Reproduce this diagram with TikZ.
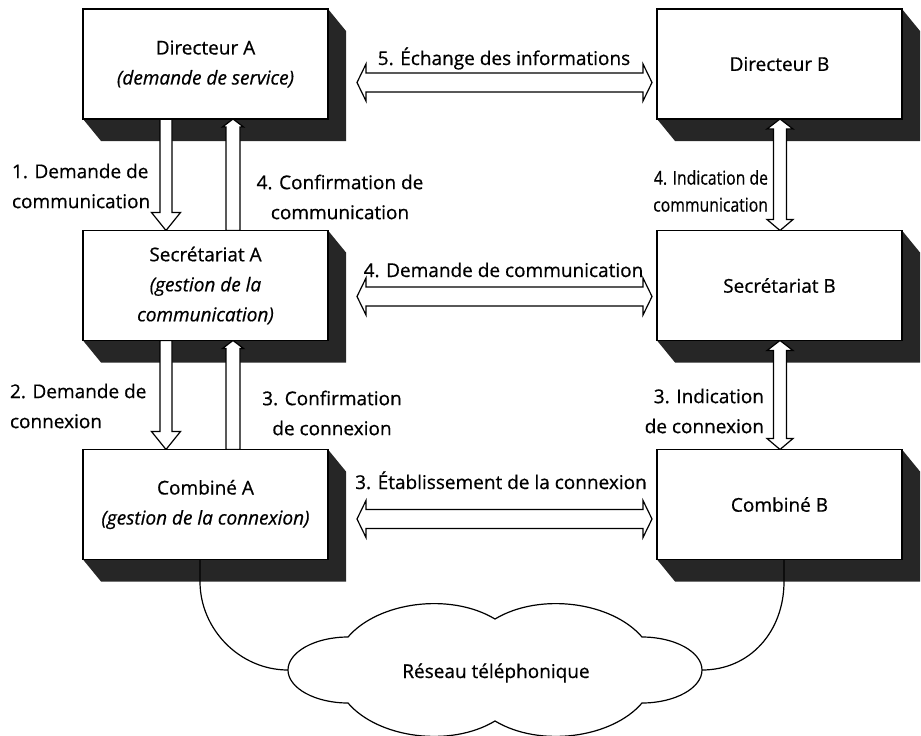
\documentclass[tikz,border=0pt]{standalone}
\usepackage{fontspec}
\setmainfont{Open Sans}[UprightFeatures={FakeBold=0.6}, ItalicFeatures={FakeBold=0.6}]
\usetikzlibrary{calc}
\pgfdeclarelayer{shadowlayer}
\pgfdeclarelayer{arrowlayer}
\pgfsetlayers{shadowlayer,arrowlayer,main}

\begin{document}
\begin{tikzpicture}[x=1pt,y=-1pt,
  every node/.style={font=\fontsize{19}{30}\selectfont, inner sep=0pt, outer sep=0pt},
  narrow/.style={font=\fontsize{19}{27}\selectfont, xscale=0.83},
  panel/.style={draw, line width=1.2pt, fill=white, minimum width=245pt,
    minimum height=110pt, align=center},
  slab/.style={fill=black!85},
  hollow/.style={draw, line width=1.2pt, fill=white, line join=miter},
  wire/.style={draw, line width=1.2pt},
  % single-headed block arrow pointing down
  blockdown/.style={hollow, to path={let \p1=(\tikztostart), \p2=(\tikztotarget) in
    (\x1-6pt,\y1) -- (\x1-6pt,\y2+18pt) -- (\x1-14.5pt,\y2+18pt) -- (\x1,\y2)
    -- (\x1+14.5pt,\y2+18pt) -- (\x1+6pt,\y2+18pt) -- (\x1+6pt,\y1) -- cycle}},
  % single-headed block arrow pointing up, small head
  blockup/.style={hollow, to path={let \p1=(\tikztostart), \p2=(\tikztotarget) in
    (\x1-7pt,\y1) -- (\x1-7pt,\y2-8pt) -- (\x1-10.5pt,\y2-8pt) -- (\x1,\y2)
    -- (\x1+10.5pt,\y2-8pt) -- (\x1+7pt,\y2-8pt) -- (\x1+7pt,\y1) -- cycle}},
  % vertical two-headed block arrow
  blockvv/.style={hollow, to path={let \p1=(\tikztostart), \p2=(\tikztotarget) in
    (\x1,\y1) -- (\x1+13pt,\y1-10pt) -- (\x1+6.5pt,\y1-10pt) -- (\x1+6.5pt,\y2+11pt)
    -- (\x1+13pt,\y2+11pt) -- (\x1,\y2) -- (\x1-13pt,\y2+11pt) -- (\x1-6.5pt,\y2+11pt)
    -- (\x1-6.5pt,\y1-10pt) -- (\x1-13pt,\y1-10pt) -- cycle}},
  % horizontal two-headed block arrow
  blockhh/.style={hollow, to path={let \p1=(\tikztostart), \p2=(\tikztotarget) in
    (\x1,\y1) -- (\x1+9pt,\y1+18.5pt) -- (\x1+9pt,\y1+9.5pt) -- (\x2-9pt,\y1+9.5pt)
    -- (\x2-9pt,\y1+18.5pt) -- (\x2,\y1) -- (\x2-9pt,\y1-18.5pt) -- (\x2-9pt,\y1-9.5pt)
    -- (\x1+9pt,\y1-9.5pt) -- (\x1+9pt,\y1-18.5pt) -- cycle}},
]
\useasboundingbox (0,0) rectangle (921,736);

% the six stations
\node[panel] (dirA) at (205.5,64)    {Directeur A\\\textit{(demande de service)}};
\node[panel] (secA) at (205.5,285.5) {Secrétariat A\\\textit{(gestion de la}\\\textit{communication)}};
\node[panel] (comA) at (205.5,504.5) {Combiné A\\\textit{(gestion de la connexion)}};
\node[panel] (dirB) at (779.5,64)    {Directeur B};
\node[panel] (secB) at (779.5,285.5) {Secrétariat B};
\node[panel] (comB) at (779.5,504.5) {Combiné B};

% extruded dark sides of the stations
\begin{pgfonlayer}{shadowlayer}
\foreach \b in {dirA,secA,comA,dirB,secB,comB}
  \fill[slab] (\b.south west) -- ++(18,22) -- ($(\b.south east)+(18,22)$)
    -- ($(\b.north east)+(18,22)$) -- (\b.north east) -- cycle;
\end{pgfonlayer}

% block arrows
\begin{pgfonlayer}{arrowlayer}
\draw[blockdown] ([xshift=-39.5pt]dirA.south) to ([xshift=-39.5pt]secA.north);
\draw[blockup]   ([xshift=27.5pt]secA.north)  to ([xshift=27.5pt]dirA.south);
\draw[blockdown] ([xshift=-39.5pt]secA.south) to ([xshift=-39.5pt]comA.north);
\draw[blockup]   ([xshift=27.5pt]comA.north)  to ([xshift=27.5pt]secA.south);
\draw[blockvv]   ([xshift=0.5pt]dirB.south)   to ([xshift=0.5pt]secB.north);
\draw[blockvv]   ([xshift=0.5pt]secB.south)   to ([xshift=0.5pt]comB.north);
\draw[blockhh]   ([shift={(29,18.5)}]dirA.east) to ([shift={(-5,18.5)}]dirB.west);
\draw[blockhh]   ([shift={(29,11)}]secA.east)   to ([shift={(-5,11)}]secB.west);
\draw[blockhh]   ([shift={(29,14.5)}]comA.east) to ([shift={(-5,14.5)}]comB.west);
\end{pgfonlayer}

% arrow labels
\node[anchor=west, align=left] (l1) at (12,186) {1. Demande de\\communication};
\node[align=center] (l4a) at (340,197) {4. Confirmation de\\communication};
\node[anchor=west, align=left] (l2) at (10,406) {2. Demande de\\connexion};
\node[align=center] (l3a) at (332,413) {3. Confirmation\\de connexion};
\node[narrow, anchor=east, align=right] (l4b) at (768,191) {4. Indication de\\communication};
\node[anchor=east, align=right] (l3b) at (764,411) {3. Indication\\de connexion};
\node[anchor=base] (l5) at (504,65) {5. Échange des informations};
\node[anchor=base] (l4m) at (503.5,277) {4. Demande de communication};
\node[anchor=base] (l3m) at (501,489) {3. Établissement de la connexion};

% telephone network cloud
\coordinate (cloudW) at (288,670);
\coordinate (cloudE) at (702,670);
\draw[line width=1.2pt, fill=white]
  (348,637) .. controls (378,602) and (450,592) .. (495,619)
  .. controls (540,592) and (612,602) .. (642,637)
  .. controls (675,637) and (702,652) .. (cloudE)
  .. controls (702,688) and (675,703) .. (642,703)
  .. controls (612,738) and (540,748) .. (495,721)
  .. controls (450,748) and (378,738) .. (348,703)
  .. controls (315,703) and (288,688) .. (cloudW)
  .. controls (288,652) and (315,637) .. (348,637) -- cycle;
\node[anchor=base] (net) at (496,678) {Réseau téléphonique};

% handset lines into the network
\draw[wire] ([xshift=-5.5pt]comA.south) -- ++(0,22) .. controls +(0,48) and +(-48,0) .. (cloudW);
\draw[wire] ([xshift=4.5pt]comB.south) -- ++(0,22) .. controls +(0,50) and +(48,0) .. (cloudE);
\end{tikzpicture}
\end{document}
